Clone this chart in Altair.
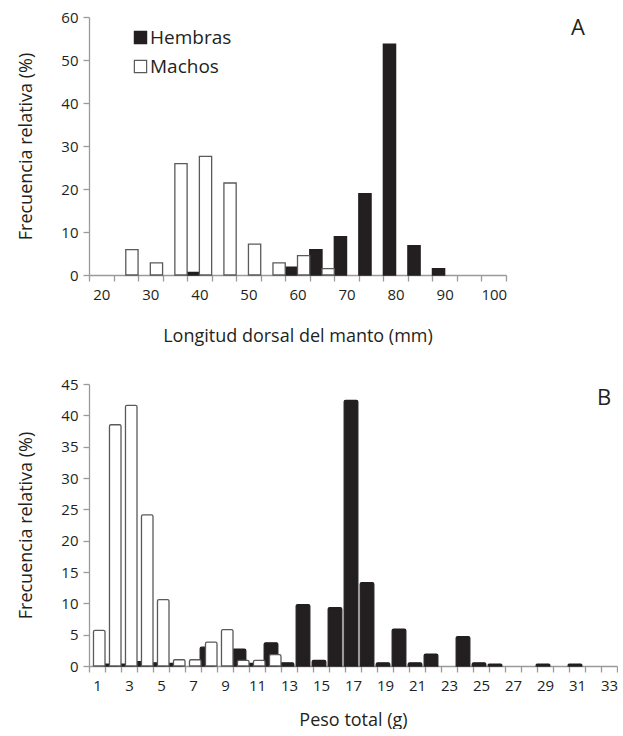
import altair as alt
import pandas as pd

# ---------------- data ----------------
a_cats = [20, 25, 30, 35, 40, 45, 50, 55, 60, 65, 70, 75, 80, 85, 90, 95, 100]
a_hembras = [0, 0, 0, 0, 0.6, 0, 0, 0, 1.8, 5.9, 8.9, 18.9, 53.7, 6.8, 1.5, 0, 0]
a_machos = [0, 5.9, 2.8, 25.9, 27.6, 21.4, 7.2, 2.8, 4.5, 1.5, 0, 0, 0, 0, 0, 0, 0]

b_cats = list(range(1, 34))
b_hembras = [0, 0.3, 0.3, 0.7, 0.5, 0.4, 0, 3.0, 0, 2.7, 0.4, 3.7, 0.5, 9.8, 0.9,
             9.3, 42.4, 13.3, 0.5, 5.9, 0.5, 1.9, 0, 4.7, 0.5, 0.3, 0, 0, 0.3, 0, 0.3, 0, 0]
b_machos = [5.7, 38.5, 41.6, 24.1, 10.6, 1.0, 1.0, 3.8, 5.8, 0.9, 0.9, 1.8, 0, 0, 0,
            0, 0, 0, 0, 0, 0, 0, 0, 0, 0, 0, 0, 0, 0, 0, 0, 0, 0]

series = ["Hembras", "Machos"]
fills = ["#231f20", "#ffffff"]
strokes = ["#231f20", "#5a5a5a"]

FONT = "Open Sans"
TXT = "#231f20"
AX = "#9a9a9a"


def build(cats, hem, mac, h_lo, h_hi, m_lo, m_hi):
    rows = []
    for c, v in zip(cats, hem):
        if v > 0:
            rows.append({"sexo": "Hembras", "x0": c + h_lo, "x1": c + h_hi, "v": v})
    for c, v in zip(cats, mac):
        if v > 0:
            rows.append({"sexo": "Machos", "x0": c + m_lo, "x1": c + m_hi, "v": v})
    return pd.DataFrame(rows)


df_a = build(a_cats, a_hembras, a_machos, -2.5, 0.0, 0.0, 2.5)
df_b = build(b_cats, b_hembras, b_machos, -0.55, 0.3, -0.22, 0.5)

a_vals = [17.5 + 2.5 * i for i in range(35)]
b_vals = [0.5 + 0.5 * i for i in range(67)]


def xaxis(title, vals, lab_test, tick_hide_test, tpad):
    return alt.Axis(
        title=title, values=vals, grid=False,
        labelExpr=f"({lab_test}) ? format(datum.value, 'd') : ''",
        tickOpacity={"condition": {"test": tick_hide_test, "value": 0}, "value": 1},
        labelOverlap=False, labelFlush=False,
        domainColor=AX, tickColor=AX, tickSize=6, tickWidth=1.3, domainWidth=1.3,
        labelFont=FONT, labelFontSize=15, labelColor=TXT, labelPadding=6,
        titleFont=FONT, titleFontSize=18, titleFontWeight="normal", titleColor=TXT,
        titlePadding=tpad,
    )


def yaxis(vals):
    return alt.Axis(
        title="Frecuencia relativa (%)", values=vals, grid=False,
        domainColor=AX, tickColor=AX, tickSize=6, tickWidth=1.3, domainWidth=1.3,
        labelFont=FONT, labelFontSize=15, labelColor=TXT, labelPadding=5,
        titleFont=FONT, titleFontSize=18, titleFontWeight="normal", titleColor=TXT,
        titlePadding=25,
    )


color_fill = alt.Scale(domain=series, range=fills)
color_stroke = alt.Scale(domain=series, range=strokes)

bars_a = alt.Chart(df_a).mark_bar(strokeWidth=1.3).encode(
    x=alt.X("x0:Q", scale=alt.Scale(domain=[17.5, 102.5], nice=False, zero=False),
            axis=xaxis("Longitud dorsal del manto (mm)", a_vals,
                       "datum.value % 10 == 0", "datum.value % 5 != 2.5", 25)),
    x2="x1:Q",
    y=alt.Y("v:Q", scale=alt.Scale(domain=[0, 60], nice=False), axis=yaxis(list(range(0, 61, 10)))),
    y2=alt.datum(0),
    fill=alt.Fill("sexo:N", scale=color_fill,
                  legend=alt.Legend(title=None, orient="none", legendX=42, legendY=11,
                                    symbolType="square", symbolSize=150,
                                    symbolStrokeColor="#444444", symbolStrokeWidth=1.2,
                                    labelFont=FONT, labelFontSize=19, labelColor=TXT,
                                    labelOffset=0, rowPadding=9)),
    stroke=alt.Stroke("sexo:N", scale=color_stroke, legend=None),
    order=alt.Order("sexo:N"),
)

lab_a = alt.Chart(pd.DataFrame({"t": ["A"]})).mark_text(
    font=FONT, fontSize=22, color=TXT, align="center", baseline="middle"
).encode(x=alt.value(489), y=alt.value(11), text="t:N")

panel_a = alt.layer(bars_a, lab_a).properties(width=417, height=258)

bars_b = alt.Chart(df_b).mark_bar(strokeWidth=1.3, cornerRadiusTopLeft=1.5, cornerRadiusTopRight=1.5).encode(
    x=alt.X("x0:Q", scale=alt.Scale(domain=[0.5, 33.5], nice=False, zero=False),
            axis=xaxis("Peso total (g)", b_vals,
                       "datum.value % 2 == 1", "datum.value % 1 == 0", 18)),
    x2="x1:Q",
    y=alt.Y("v:Q", scale=alt.Scale(domain=[0, 45], nice=False), axis=yaxis(list(range(0, 46, 5)))),
    y2=alt.datum(0),
    fill=alt.Fill("sexo:N", scale=color_fill, legend=None),
    stroke=alt.Stroke("sexo:N", scale=color_stroke, legend=None),
    order=alt.Order("sexo:N"),
)

lab_b = alt.Chart(pd.DataFrame({"t": ["B"]})).mark_text(
    font=FONT, fontSize=22, color=TXT, align="center", baseline="middle"
).encode(x=alt.value(515), y=alt.value(14), text="t:N")

panel_b = alt.layer(bars_b, lab_b).properties(width=528, height=282)

chart = alt.vconcat(panel_a, panel_b, spacing=32).resolve_scale(
    fill="independent", stroke="independent"
).properties(
    padding={"left": 17, "top": 10, "right": 0, "bottom": 0},
    background="white",
).configure_view(stroke=None)

chart.save("out.html", embed_options={"renderer": "svg", "actions": False})
